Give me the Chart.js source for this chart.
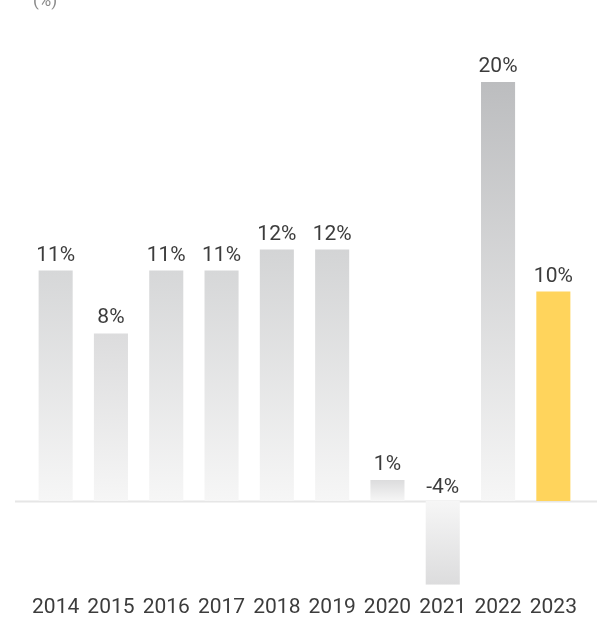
<!DOCTYPE html>
<html>
<head>
<meta charset="utf-8">
<script src="https://cdn.jsdelivr.net/npm/chart.js@4/dist/chart.umd.min.js"></script>
<style>
  html, body { margin: 0; padding: 0; background: #fff; }
  #wrap { width: 605px; height: 621px; }
</style>
</head>
<body>
<div id="wrap"><canvas id="growthChart"></canvas></div>
<script>
'use strict';

// Annual growth, %
const years  = ['2014', '2015', '2016', '2017', '2018', '2019', '2020', '2021', '2022', '2023'];
const growth = [11, 8, 11, 11, 12, 12, 1, -4, 20, 10];
const highlightYear = '2023';
const unitLabel = '(%)';

const yMin = -4;
const yMax = 20;

const textColor = '#3c3c3c';
const yellow    = '#FFD45C';
const light     = [246, 246, 246];
const dark      = [188, 189, 191];

function mix(t) {
  const c = light.map((l, i) => Math.round(l + (dark[i] - l) * t));
  return `rgb(${c[0]},${c[1]},${c[2]})`;
}

// grey bars fade from the baseline (light) to the bar end (darker with size)
function barFill(ctx) {
  const chart = ctx.chart;
  if (!chart.chartArea) return '#e0e0e0';
  if (years[ctx.dataIndex] === highlightYear) return yellow;
  const v = growth[ctx.dataIndex];
  const ys = chart.scales.y;
  const y0 = ys.getPixelForValue(0);
  const y1 = ys.getPixelForValue(v);
  const t = Math.max(Math.abs(v) / yMax, 0.45);
  const g = chart.ctx.createLinearGradient(0, y1, 0, y0);
  g.addColorStop(0, mix(t));
  g.addColorStop(1, mix(0));
  return g;
}

// zero line, wider than the plot area
const baseline = {
  id: 'baseline',
  beforeDatasetsDraw(chart) {
    const c = chart.ctx;
    const y = Math.round(chart.scales.y.getPixelForValue(0)) + 0.5;
    c.save();
    c.strokeStyle = '#e6e6e6';
    c.lineWidth = 2;
    c.beginPath();
    c.moveTo(15, y);
    c.lineTo(597, y);
    c.stroke();
    c.restore();
  }
};

// value labels above each bar (negative ones sit above the baseline)
const valueLabels = {
  id: 'valueLabels',
  afterDatasetsDraw(chart) {
    const c = chart.ctx;
    const meta = chart.getDatasetMeta(0);
    c.save();
    c.font = '21px Roboto, sans-serif';
    c.fillStyle = textColor;
    c.textAlign = 'center';
    c.textBaseline = 'alphabetic';
    meta.data.forEach((bar, i) => {
      const v = growth[i];
      const y = v >= 0 ? bar.y - 10 : bar.base - 8;
      c.fillText(v + '%', bar.x, y);
    });
    // unit note in the top-left corner
    c.font = '17px Roboto, sans-serif';
    c.fillStyle = '#8a8a8a';
    c.fillText(unitLabel, 45, 6);
    c.restore();
  }
};

new Chart(document.getElementById('growthChart').getContext('2d'), {
  type: 'bar',
  data: {
    labels: years,
    datasets: [{
      data: growth,
      backgroundColor: barFill,
      borderWidth: 0,
      categoryPercentage: 1,
      barPercentage: 0.616
    }]
  },
  options: {
    responsive: true,
    maintainAspectRatio: false,
    animation: false,
    layout: { padding: { top: 82, left: 28, right: 24, bottom: -9 } },
    plugins: {
      legend: { display: false },
      tooltip: { enabled: false }
    },
    scales: {
      x: {
        grid: { display: false, drawTicks: false },
        border: { display: false },
        ticks: { color: textColor, padding: 10, font: { family: 'Roboto, sans-serif', size: 21 } }
      },
      y: {
        display: false,
        min: yMin,
        max: yMax
      }
    }
  },
  plugins: [baseline, valueLabels]
});
</script>
</body>
</html>
